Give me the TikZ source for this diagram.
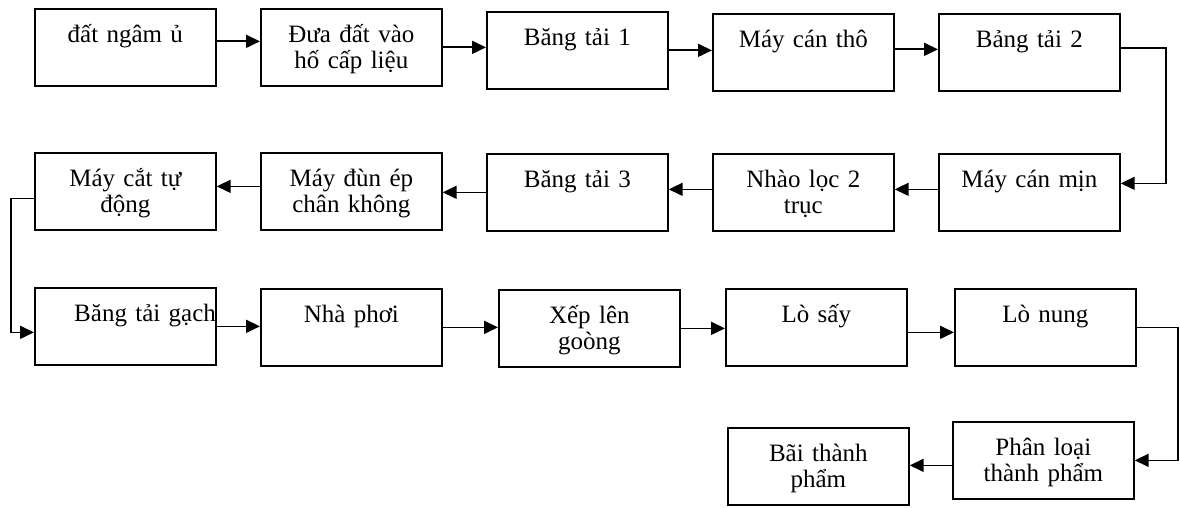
\documentclass[tikz,border=0pt]{standalone}
\usepackage{fontspec}
\setmainfont{Liberation Serif}
\usepackage{tikz}
\usetikzlibrary{arrows.meta}

\tikzset{
  stage/.style={draw, line width=1.7pt, text width=181pt, align=center,
    inner sep=0pt, text height=34pt, text depth=43pt,
    anchor=north west, font=\fontsize{25}{26}\selectfont},
  flow/.style={->, line width=1.7pt}
}

\begin{document}
\begin{tikzpicture}[x=1pt, y=-1pt, >={Triangle[length=14pt,width=13pt]}]
\useasboundingbox (0,0) rectangle (1180,508);

% first row
\node[stage] (dat) at (34,8) {đất ngâm ủ};
\node[stage] (dua) at (260,8) {Đưa đất vào\\hố cấp liệu};
\node[stage] (bt1) at (486,11) {Băng tải 1};
\node[stage] (mct) at (712,13) {Máy cán thô};
\node[stage] (bt2) at (938,13) {Bảng tải 2};

% second row
\node[stage] (mcm) at (938,153) {Máy cán mịn};
\node[stage] (nhl) at (712,153) {Nhào lọc 2\\trục};
\node[stage] (bt3) at (486,153) {Băng tải 3};
\node[stage] (mde) at (260,152) {Máy đùn ép\\chân không};
\node[stage] (mcat) at (34,152) {Máy cắt tự\\động};

% third row
\node[stage, align=right] (btg) at (34,287) {Băng tải gạch\hspace*{5pt}};
\node[stage] (nhp) at (260,288) {Nhà phơi};
\node[stage] (xep) at (498,289) {Xếp lên\\goòng};
\node[stage] (los) at (725,288) {Lò sấy};
\node[stage] (lon) at (954,288) {Lò nung};

% last row
\node[stage] (plt) at (952,421) {Phân loại\\thành phẩm};
\node[stage] (bai) at (727,427) {Bãi thành\\phẩm};

\draw[flow] ([yshift=6pt]dat.east) -- ([yshift=6pt]dat.east -| dua.west);
\draw[flow] (dua.east) -- (dua.east -| bt1.west);
\draw[flow] (bt1.east) -- (bt1.east -| mct.west);
\draw[flow] ([yshift=3pt]mct.east) -- ([yshift=3pt]mct.east -| bt2.west);
\draw[flow] ([yshift=4pt]bt2.east) -- ++(45,0) |- ([yshift=9pt]mcm.east);

\draw[flow] ([yshift=3pt]mcm.west) -- ([yshift=3pt]mcm.west -| nhl.east);
\draw[flow] ([yshift=3pt]nhl.west) -- ([yshift=3pt]nhl.west -| bt3.east);
\draw[flow] (bt3.west) -- (bt3.west -| mde.east);
\draw[flow] ([yshift=5pt]mde.west) -- ([yshift=5pt]mde.west -| mcat.east);
\draw[flow] ([yshift=-7pt]mcat.west) -- ++(-23,0) |- ([yshift=-6pt]btg.west);

\draw[flow] (btg.east) -- (btg.east -| nhp.west);
\draw[flow] (nhp.east) -- (nhp.east -| xep.west);
\draw[flow] (xep.east) -- (xep.east -| los.west);
\draw[flow] ([yshift=-5pt]los.east) -- ([yshift=-5pt]los.east -| lon.west);
\draw[flow] (lon.east) -- ++(41,0) |- (plt.east);
\draw[flow] ([yshift=-5pt]plt.west) -- ([yshift=-5pt]plt.west -| bai.east);

\end{tikzpicture}
\end{document}
